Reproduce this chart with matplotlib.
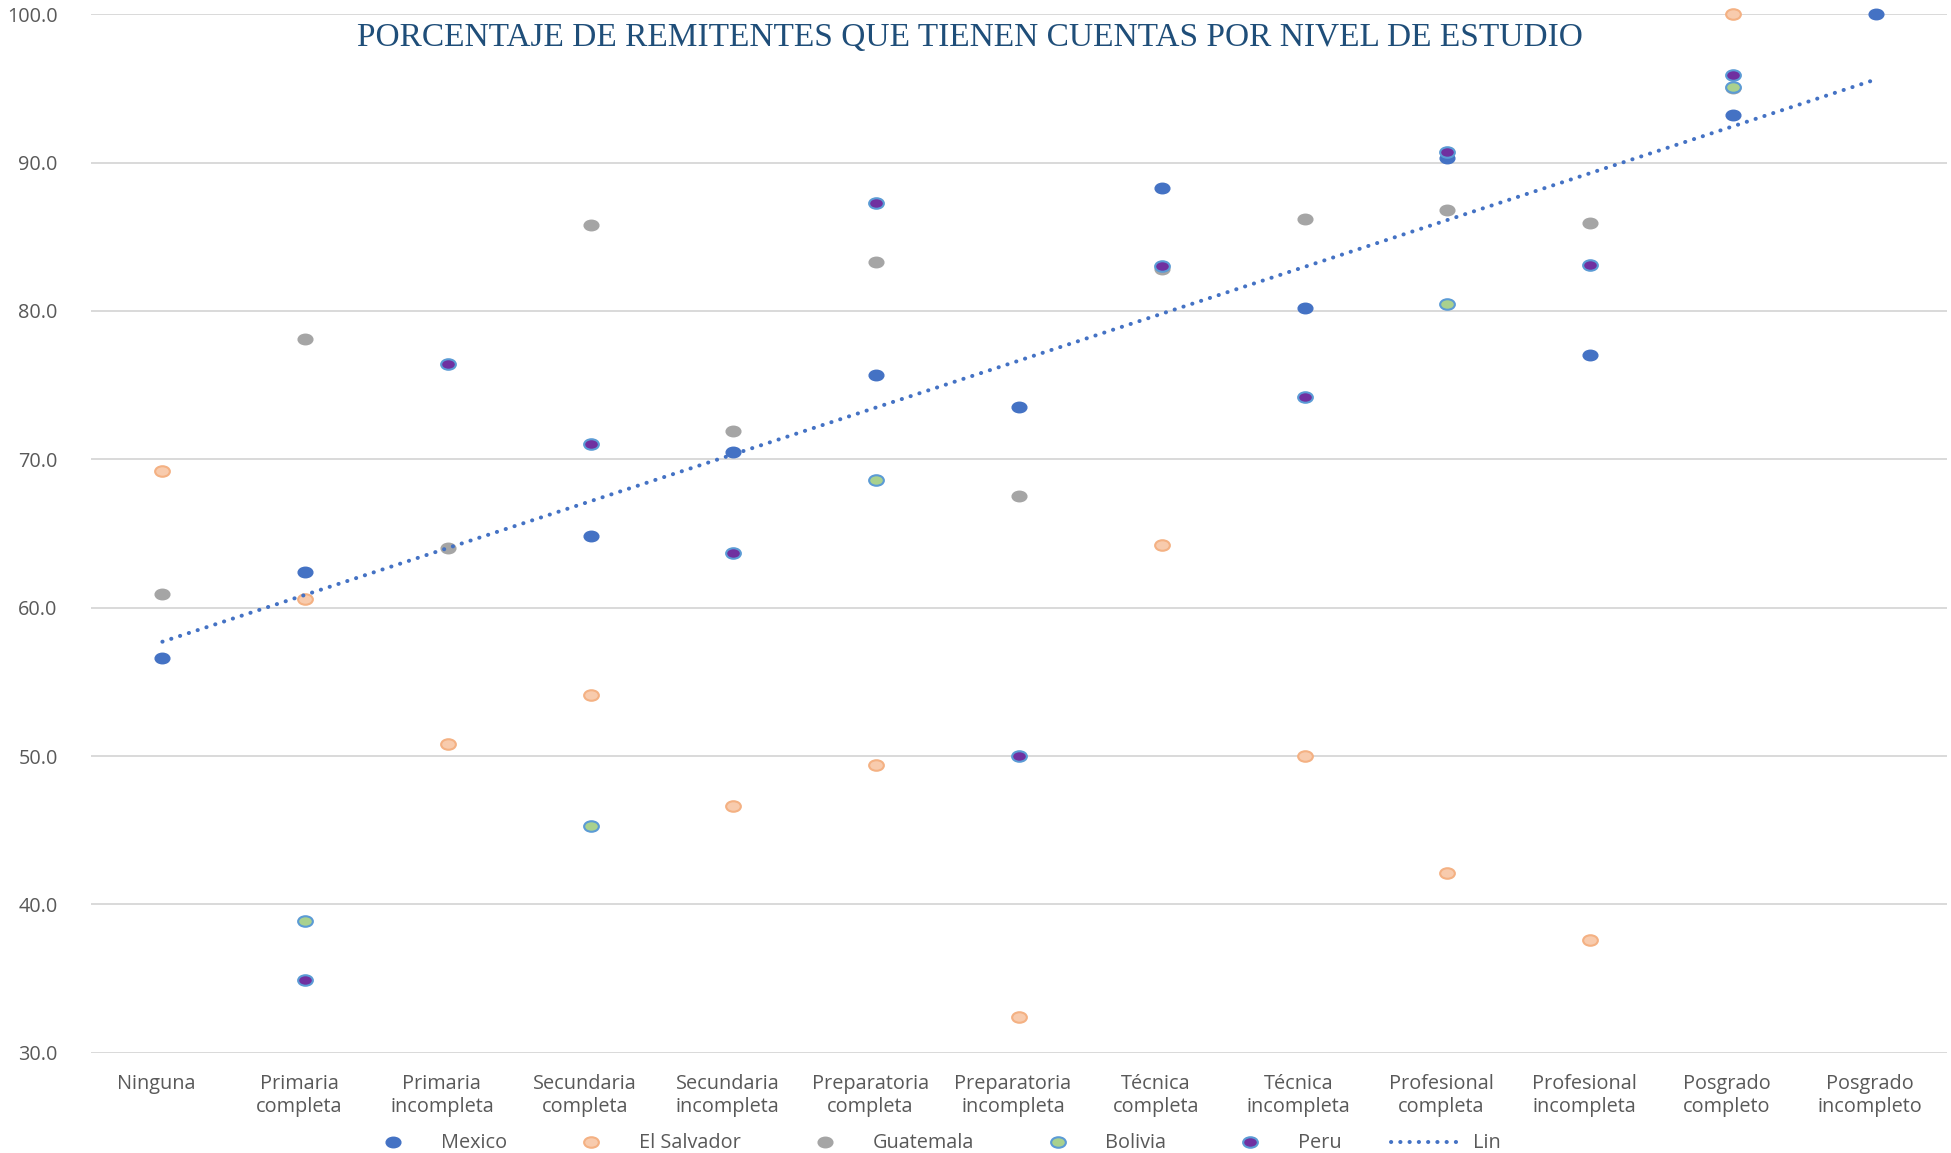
import numpy as np
import matplotlib
matplotlib.use("Agg")
import matplotlib.pyplot as plt
from matplotlib.path import Path
from matplotlib.transforms import Affine2D, ScaledTranslation

nan = np.nan
categories = ["Ninguna", "Primaria\ncompleta", "Primaria\nincompleta", "Secundaria\ncompleta",
              "Secundaria\nincompleta", "Preparatoria\ncompleta", "Preparatoria\nincompleta",
              "Técnica\ncompleta", "Técnica\nincompleta", "Profesional\ncompleta",
              "Profesional\nincompleta", "Posgrado\ncompleto", "Posgrado\nincompleto"]
mexico      = [56.6, 62.4, nan, 64.8, 70.5, 75.7, 73.5, 88.3, 80.2, 90.3, 77.0, 93.2, 100.0]
el_salvador = [69.2, 60.6, 50.8, 54.1, 46.6, 49.4, 32.4, 64.2, 50.0, 42.1, 37.6, 100.0, nan]
guatemala   = [60.9, 78.1, 64.0, 85.8, 71.9, 83.3, 67.5, 82.8, 86.2, 86.8, 85.9, 95.0, nan]
bolivia     = [nan, 38.9, nan, 45.3, nan, 68.6, nan, nan, nan, 80.5, nan, 95.1, nan]
peru        = [nan, 34.9, 76.4, 71.0, 63.7, 87.3, 50.0, 83.0, 74.2, 90.7, 83.1, 95.9, nan]
yticks = [30, 40, 50, 60, 70, 80, 90, 100]
title = "PORCENTAJE DE REMITENTES QUE TIENEN CUENTAS POR NIVEL DE ESTUDIO"

plt.rcParams['font.family'] = ['Open Sans', 'DejaVu Sans']

W, H = 1951, 1153
fig = plt.figure(figsize=(W / 100, H / 100), dpi=100)
ax = fig.add_axes([91 / W, 1 - 1052.7 / H, (1947 - 91) / W, (1052.7 - 14.3) / H])

ell = Path.unit_circle().transformed(Affine2D().scale(1.4, 1.0))
x = np.arange(len(categories))

series = [
    ("Mexico", mexico, "#4472C4", "#4472C4", 1.0),
    ("El Salvador", el_salvador, "#F8CBAD", "#F4B183", 1.5),
    ("Guatemala", guatemala, "#A5A5A5", "#A5A5A5", 1.0),
    ("Bolivia", bolivia, "#A9D18E", "#5B9BD5", 1.5),
    ("Peru", peru, "#7030A0", "#5B9BD5", 1.5),
]
handles = []
for i, (name, vals, fc, ec, mew) in enumerate(series):
    ln, = ax.plot(x, vals, linestyle="none", marker=ell, markersize=10.6,
                  markerfacecolor=fc, markeredgecolor=ec, markeredgewidth=mew,
                  clip_on=False, zorder=3 + i, label=name)
    handles.append(ln)

# linear trendline on Mexico
m = np.array(mexico)
ok = ~np.isnan(m)
coef = np.polyfit(x[ok] + 1, m[ok], 1)
xt = np.array([0, len(categories) - 1])
yt = np.polyval(coef, xt + 1)
tl, = ax.plot(xt, yt, color="#4472C4", linewidth=2.9, linestyle=(0, (0.05, 2.25)),
              dash_capstyle="round", zorder=10, label="Lin", clip_on=False)
handles.append(tl)

ax.set_xlim(-0.5, len(categories) - 0.5)
ax.set_ylim(30, 100)
ax.set_yticks(yticks)
ax.set_yticklabels([f"{v:.1f}" for v in yticks])
ax.set_xticks(x)
ax.set_xticklabels(categories, linespacing=1.22)
for s in ax.spines.values():
    s.set_visible(False)
ax.grid(axis="y", color="#D9D9D9", linewidth=1.4)
ax.set_axisbelow(True)
ax.tick_params(axis="both", length=0, labelsize=14.3, labelcolor="#595959")
ax.tick_params(axis="y", pad=24)
ax.tick_params(axis="x", pad=15)
off = ScaledTranslation(-6 / 100, 0, fig.dpi_scale_trans)
for lab in ax.get_xticklabels():
    lab.set_transform(lab.get_transform() + off)

fig.text(970 / W, 1 - 38 / H, title, ha="center", va="center",
         family=["Liberation Serif", "DejaVu Serif"], fontsize=24, color="#1F4E79")

leg = fig.legend(handles=handles, loc="center", bbox_to_anchor=(930 / W, 1 - 1143.5 / H),
                 ncol=6, frameon=False, fontsize=14.3, handlelength=3.45, handletextpad=0.68,
                 columnspacing=2.5, borderpad=0.1)
for t in leg.get_texts():
    t.set_color("#595959")

fig.savefig("out.png", dpi=100)
